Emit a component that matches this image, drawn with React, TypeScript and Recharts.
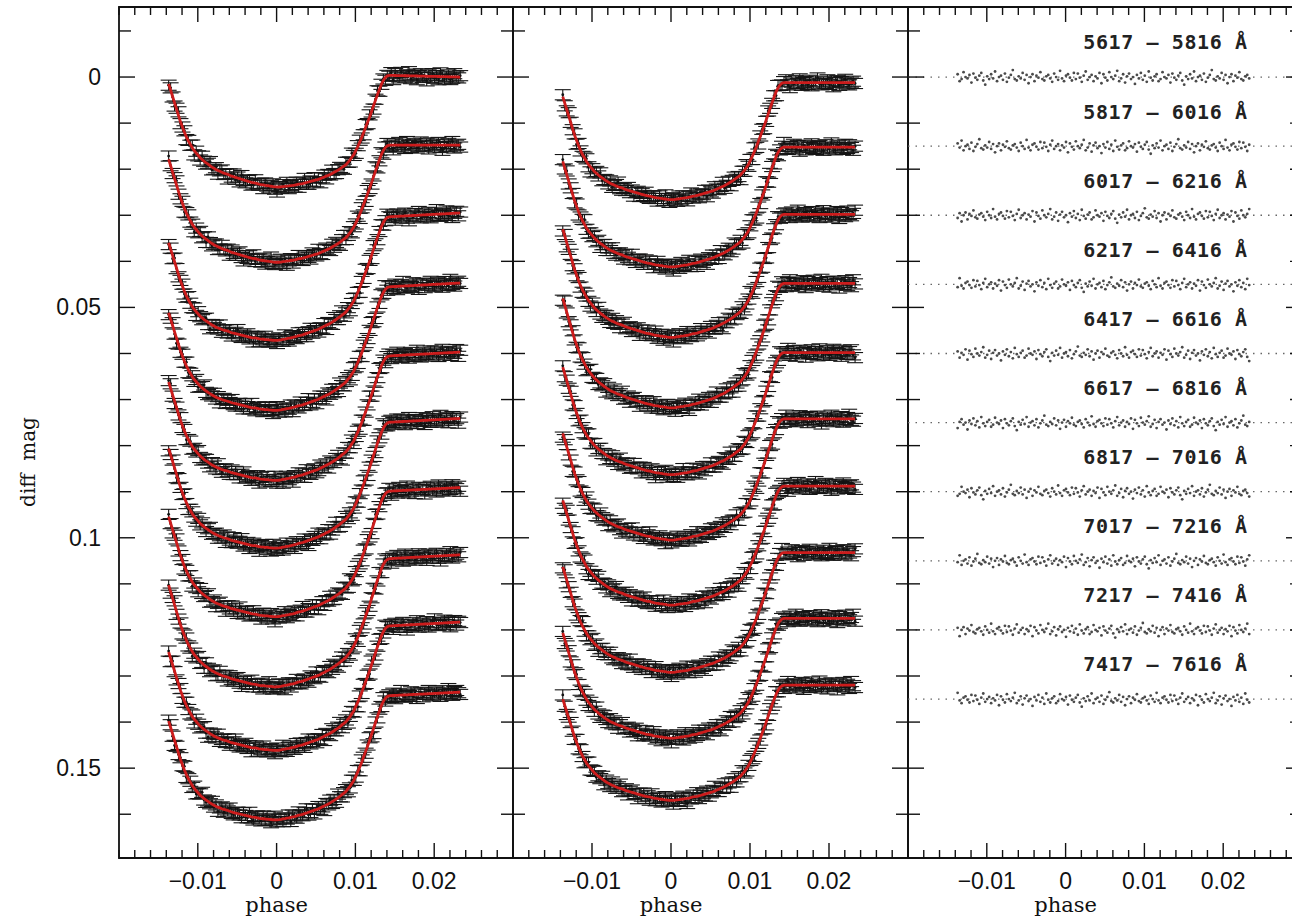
import React from "react";
import {
  ScatterChart,
  Scatter,
  XAxis,
  YAxis,
  ErrorBar,
  ReferenceLine,
  ReferenceArea,
} from "recharts";

// observation phases (same cadence for every band)
const PHASES = [
  -0.0137, -0.01345, -0.0132, -0.01295, -0.0127, -0.01245, -0.0122, -0.01195, -0.0117, -0.01145,
  -0.0112, -0.01095, -0.0107, -0.01045, -0.0102, -0.00995, -0.0097, -0.00945, -0.0092, -0.00895,
  -0.0087, -0.00845, -0.0082, -0.00795, -0.0077, -0.00745, -0.0072, -0.00695, -0.0067, -0.00645,
  -0.0062, -0.00595, -0.0057, -0.00545, -0.0052, -0.00495, -0.0047, -0.00445, -0.0042, -0.00395,
  -0.0037, -0.00345, -0.0032, -0.00295, -0.0027, -0.00245, -0.0022, -0.00195, -0.0017, -0.00145,
  -0.0012, -0.00095, -0.0007, -0.00045, -0.0002, 0.00005, 0.0003, 0.00055, 0.0008, 0.00105,
  0.0013, 0.00155, 0.0018, 0.00205, 0.0023, 0.00255, 0.0028, 0.00305, 0.0033, 0.00355,
  0.0038, 0.00405, 0.0043, 0.00455, 0.0048, 0.00505, 0.0053, 0.00555, 0.0058, 0.00605,
  0.0063, 0.00655, 0.0068, 0.00705, 0.0073, 0.00755, 0.0078, 0.00805, 0.0083, 0.00855,
  0.0088, 0.00905, 0.0093, 0.00955, 0.0098, 0.01005, 0.0103, 0.01055, 0.0108, 0.01105,
  0.0113, 0.01155, 0.0118, 0.01205, 0.0123, 0.01255, 0.0128, 0.01305, 0.0133, 0.01355,
  0.0138, 0.01405, 0.0143, 0.01455, 0.0148, 0.01505, 0.0153, 0.01555, 0.0158, 0.01605,
  0.0163, 0.01655, 0.0168, 0.01705, 0.0173, 0.01755, 0.0178, 0.01805, 0.0183, 0.01855,
  0.0188, 0.01905, 0.0193, 0.01955, 0.0198, 0.02005, 0.0203, 0.02055, 0.0208, 0.02105,
  0.0213, 0.02155, 0.0218, 0.02205, 0.0223, 0.02255, 0.0228, 0.02305, 0.0233,
];

// transit profile, as a fraction of the full depth
const SHAPE = [
  0.12, 0.175, 0.23, 0.285, 0.34, 0.395, 0.45, 0.495, 0.54, 0.58,
  0.615, 0.645, 0.675, 0.7, 0.72, 0.74, 0.76, 0.775, 0.79, 0.803,
  0.815, 0.828, 0.84, 0.85, 0.86, 0.868, 0.875, 0.883, 0.89, 0.895,
  0.9, 0.908, 0.915, 0.92, 0.925, 0.93, 0.935, 0.94, 0.945, 0.95,
  0.955, 0.96, 0.965, 0.968, 0.97, 0.975, 0.98, 0.983, 0.985, 0.988,
  0.99, 0.993, 0.995, 0.998, 1.0, 1.0, 1.0, 0.998, 0.995, 0.993,
  0.99, 0.988, 0.985, 0.983, 0.98, 0.975, 0.97, 0.968, 0.965, 0.96,
  0.955, 0.95, 0.945, 0.94, 0.935, 0.93, 0.925, 0.918, 0.91, 0.903,
  0.895, 0.888, 0.88, 0.87, 0.86, 0.85, 0.84, 0.828, 0.815, 0.803,
  0.79, 0.77, 0.75, 0.725, 0.7, 0.665, 0.63, 0.59, 0.55, 0.505,
  0.46, 0.415, 0.37, 0.32, 0.27, 0.22, 0.17, 0.125, 0.08, 0.045,
  0.02, 0.005, 0, 0, 0, 0, 0, 0, 0, 0,
  0, 0, 0, 0, 0, 0, 0, 0, 0, 0,
  0, 0, 0, 0, 0, 0, 0, 0, 0, 0,
  0, 0, 0, 0, 0, 0, 0, 0, 0,
];

// scatter of the points about the model, in units of 1e-4 mag
const NOISE = [
  3, -5, 1, 7, -2, -8, 4, 0, -3, 6, -1, 2, -6, 9, -4, 1, 5, -7, 0, 3,
  -2, -9, 6, 2, -4, 8, -1, -5, 3, 0, 10, -3, 2, -6, 4, -2, 7, -8, 1, 5,
  -1, -4, 6, 3, -7, 0, 2, -3, 8, -5, 1, 4, -2, -6, 5, 11, -1, 3, -4, 2,
  -8, 6, 0, -2, 4, -5, 7, 1, -3, -10, 3, 5, -1, 2, -6, 4, -3, 9, 0, -4,
  6, -2, 1, -7, 3, 5, -1, -3, 2, 7, -5, 0, 4, -9, 2, 6, -2, -4, 1, 5, -6,
];

const BANDS = [
  "5617 – 5816 Å",
  "5817 – 6016 Å",
  "6017 – 6216 Å",
  "6217 – 6416 Å",
  "6417 – 6616 Å",
  "6617 – 6816 Å",
  "6817 – 7016 Å",
  "7017 – 7216 Å",
  "7217 – 7416 Å",
  "7417 – 7616 Å",
];

// left panel: raw curves
const LEFT_BASE = [0.0, 0.0148, 0.0295, 0.0447, 0.0597, 0.0741, 0.0891, 0.1037, 0.1183, 0.1335];
const LEFT_DEPTH = [0.0248, 0.0254, 0.0255, 0.0255, 0.0257, 0.026, 0.026, 0.0265, 0.0257, 0.0257];
const LEFT_TREND = [-0.0015, 0.0, 0.0034, 0.0034, 0.0034, 0.0034, 0.0032, 0.0034, 0.0034, 0.0032];

// middle panel: detrended curves
const MID_BASE = [0.0012, 0.0152, 0.0298, 0.0448, 0.0598, 0.0742, 0.0888, 0.1032, 0.1175, 0.132];
const MID_DEPTH = [0.0254, 0.026, 0.0267, 0.027, 0.0265, 0.0263, 0.0258, 0.026, 0.026, 0.025];

// right panel: residual rows
const RES_BASE = [0, 0.015, 0.03, 0.045, 0.06, 0.075, 0.09, 0.105, 0.12, 0.135];

const X_MAJOR = [-0.01, 0, 0.01, 0.02];
const X_LABELS = ["\u22120.01", "0", "0.01", "0.02"];
const Y_MAJOR = [0, 0.05, 0.1, 0.15];
const Y_LABELS = ["0", "0.05", "0.1", "0.15"];

const X_DOMAIN: [number, number] = [-0.02, 0.03];
const Y_DOMAIN: [number, number] = [-0.0152, 0.1695];
const X_TICKS = Array.from({ length: 26 }, (_, i) => +(-0.02 + i * 0.002).toFixed(4));
const Y_TICKS = Array.from({ length: 18 }, (_, i) => +(-0.01 + i * 0.01).toFixed(3));

const PLOT_TOP = 7;
const PLOT_BOTTOM = 858;
const X_AXIS_H = 30;
const Y_AXIS_W = 60;
const ERR = 0.0011;
const RED = "#cc1c1c";
const N = NOISE.length;
const P0 = PHASES[0];
const P1 = PHASES[PHASES.length - 1];

const noise = (i: number, k: number, shift: number) => NOISE[(i + k * 17 + shift) % N] * 1e-4;

const leftObs = LEFT_BASE.map((b, k) =>
  PHASES.map((p, i) => {
    const m = b + LEFT_DEPTH[k] * SHAPE[i] + (LEFT_TREND[k] * (P1 - p)) / (P1 - P0);
    return { x: p, y: m + noise(i, k, 0), m, err: ERR };
  })
);
const midObs = MID_BASE.map((b, k) =>
  PHASES.map((p, i) => {
    const m = b + MID_DEPTH[k] * SHAPE[i];
    return { x: p, y: m + noise(i, k, 41), m, err: ERR };
  })
);
const resObs = RES_BASE.map((b, k) =>
  PHASES.map((p, i) => ({ x: p, y: b + noise(i, k, 41) * 1.5 }))
);
const labelPts = BANDS.map((t, k) => ({ x: 0.0231, y: RES_BASE[k] - 0.006, text: t }));

const NoDot = () => <g />;
const Dot = (p: any) => <circle cx={p.cx} cy={p.cy} r={1.4} fill="#111" />;
const ResDot = (p: any) => <circle cx={p.cx} cy={p.cy} r={1.4} fill="#4a4a4a" />;
const LabelText = (p: any) => (
  <text
    x={p.cx}
    y={p.cy}
    textAnchor="end"
    fontFamily="DejaVu Sans Mono"
    fontWeight="bold"
    fontSize={20}
    letterSpacing={0.6}
    fill="#222"
    style={{ whiteSpace: "pre" }}
  >
    {p.payload.text}
  </text>
);

const labelFont = { fontFamily: "Liberation Sans", fontSize: 23, fill: "#111" };

function Panel({
  svgLeft,
  plotLeft,
  plotRight,
  svgWidth,
  yLabels,
  children,
}: {
  svgLeft: number;
  plotLeft: number;
  plotRight: number;
  svgWidth: number;
  yLabels: boolean;
  children: React.ReactNode;
}) {
  const l = plotLeft - svgLeft;
  const r = plotRight - svgLeft;
  const XTick = (props: any) => {
    const { x, payload } = props;
    const v = payload.value;
    const mi = X_MAJOR.findIndex((m) => Math.abs(m - v) < 1e-9);
    const len = mi >= 0 ? 15 : 8;
    return (
      <g>
        <line x1={x} x2={x} y1={PLOT_BOTTOM} y2={PLOT_BOTTOM - len} stroke="#111" strokeWidth={1.4} />
        <line x1={x} x2={x} y1={PLOT_TOP} y2={PLOT_TOP + len} stroke="#111" strokeWidth={1.4} />
        {mi >= 0 && (
          <text x={x} y={889} textAnchor="middle" {...labelFont}>
            {X_LABELS[mi]}
          </text>
        )}
        {mi === 1 && (
          <text x={x} y={912} textAnchor="middle" fontFamily="DejaVu Serif" fontSize={21} fill="#111">
            phase
          </text>
        )}
      </g>
    );
  };
  const YTick = (props: any) => {
    const { y, payload } = props;
    const v = payload.value;
    const mi = Y_MAJOR.findIndex((m) => Math.abs(m - v) < 1e-9);
    const len = mi >= 0 ? 16 : 12;
    return (
      <g>
        <line x1={l} x2={l + len} y1={y} y2={y} stroke="#111" strokeWidth={1.4} />
        <line x1={r} x2={r - len} y1={y} y2={y} stroke="#111" strokeWidth={1.4} />
        {yLabels && mi >= 0 && (
          <text x={l - 18} y={y + 8} textAnchor="end" {...labelFont}>
            {Y_LABELS[mi]}
          </text>
        )}
      </g>
    );
  };
  return (
    <div style={{ position: "absolute", left: svgLeft, top: 0 }}>
      <ScatterChart
        width={svgWidth}
        height={920}
        margin={{
          top: PLOT_TOP,
          bottom: 920 - PLOT_BOTTOM - X_AXIS_H,
          left: l - Y_AXIS_W,
          right: svgLeft + svgWidth - plotRight,
        }}
      >
        <XAxis
          type="number"
          dataKey="x"
          domain={X_DOMAIN}
          allowDataOverflow
          ticks={X_TICKS}
          interval={0}
          tick={XTick}
          tickLine={false}
          axisLine={false}
          height={X_AXIS_H}
        />
        <YAxis
          type="number"
          dataKey="y"
          domain={Y_DOMAIN}
          reversed
          allowDataOverflow
          ticks={Y_TICKS}
          interval={0}
          tick={YTick}
          tickLine={false}
          axisLine={false}
          width={Y_AXIS_W}
        />
        <ReferenceArea
          x1={X_DOMAIN[0]}
          x2={X_DOMAIN[1]}
          y1={Y_DOMAIN[0]}
          y2={Y_DOMAIN[1]}
          fill="none"
          fillOpacity={0}
          stroke="#111"
          strokeWidth={1.8}
          ifOverflow="visible"
        />
        {children}
      </ScatterChart>
    </div>
  );
}

function curvePanel(obs: typeof leftObs) {
  return [
    ...obs.map((d, k) => (
      <Scatter key={"o" + k} data={d} shape={Dot} isAnimationActive={false}>
        <ErrorBar dataKey="err" direction="y" width={8} stroke="#151515" strokeWidth={1.1} isAnimationActive={false} />
      </Scatter>
    )),
    ...obs.map((d, k) => (
      <Scatter
        key={"m" + k}
        data={d.map((q) => ({ x: q.x, y: q.m }))}
        shape={NoDot}
        line={{ stroke: RED, strokeWidth: 2.8 }}
        isAnimationActive={false}
      />
    )),
  ];
}

export default function App() {
  return (
    <div
      style={{
        position: "absolute",
        left: 0,
        top: 0,
        width: 1292,
        height: 920,
        overflow: "hidden",
        background: "#fff",
      }}
    >
      <Panel svgLeft={0} plotLeft={119} plotRight={513} svgWidth={530} yLabels>
        {curvePanel(leftObs)}
      </Panel>
      <Panel svgLeft={440} plotLeft={513} plotRight={908} svgWidth={480} yLabels={false}>
        {curvePanel(midObs)}
      </Panel>
      <Panel svgLeft={835} plotLeft={908} plotRight={1302} svgWidth={485} yLabels={false}>
        {RES_BASE.map((b, k) => (
          <ReferenceLine
            key={"r" + k}
            y={b}
            stroke="#666"
            strokeWidth={1.3}
            strokeDasharray="1.5 6"
          />
        ))}
        {resObs.map((d, k) => (
          <Scatter key={"s" + k} data={d} shape={ResDot} isAnimationActive={false} />
        ))}
        <Scatter data={labelPts} shape={LabelText} isAnimationActive={false} />
      </Panel>
      <div
        style={{
          position: "absolute",
          left: 28,
          top: 462,
          transform: "translate(-50%, -50%) rotate(-90deg)",
          fontFamily: "DejaVu Serif",
          fontSize: 20,
          color: "#111",
          whiteSpace: "pre",
        }}
      >
        diff  mag
      </div>
    </div>
  );
}
